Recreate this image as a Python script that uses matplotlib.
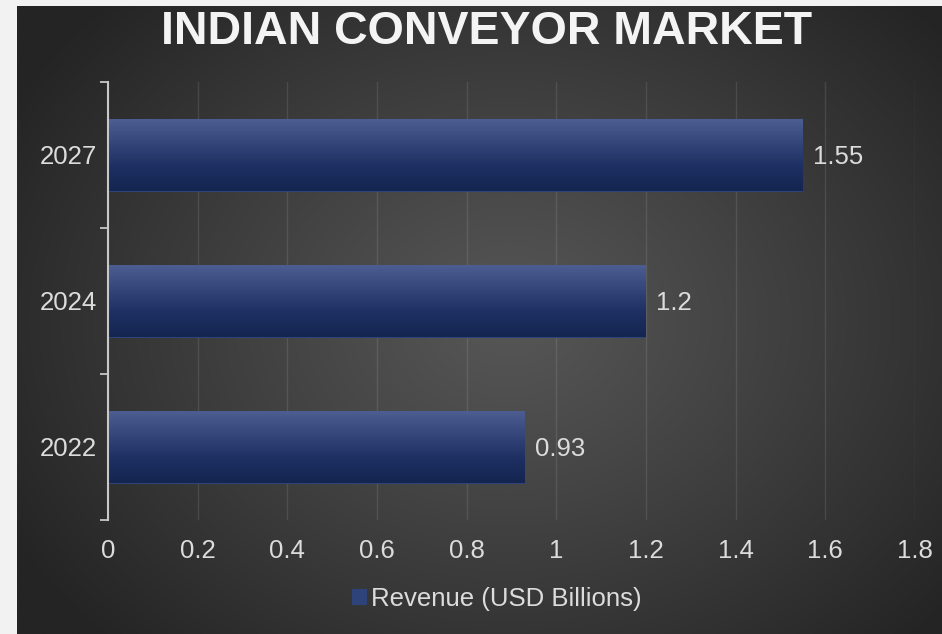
import numpy as np
import matplotlib
matplotlib.use("Agg")
import matplotlib.pyplot as plt
from matplotlib.colors import LinearSegmentedColormap, to_rgb

plt.rcParams["font.family"] = ["Liberation Sans", "DejaVu Sans"]

# Data
years = ["2022", "2024", "2027"]
revenue = [0.93, 1.2, 1.55]
x_ticks = [0, 0.2, 0.4, 0.6, 0.8, 1, 1.2, 1.4, 1.6, 1.8]
x_tick_labels = ["0", "0.2", "0.4", "0.6", "0.8", "1", "1.2", "1.4", "1.6", "1.8"]
title = "INDIAN CONVEYOR MARKET"
series_name = "Revenue (USD Billions)"

W, H = 942, 634
fig = plt.figure(figsize=(W / 100, H / 100), dpi=100, facecolor="#f2f2f2")

# Dark panel with a soft radial highlight
bg_ax = fig.add_axes([17 / W, 0, (W - 17) / W, (H - 6) / H], zorder=0)
bg_ax.set_axis_off()
ny, nx = 320, 470
yy, xx = np.mgrid[0:ny, 0:nx]
cx, cy = nx * 0.53, ny * 0.50
r = np.sqrt(((xx - cx) / (nx * 0.62)) ** 2 + ((yy - cy) / (ny * 0.72)) ** 2)
r = np.clip(r, 0, 1)
c_in = np.array(to_rgb("#565656"))
c_out = np.array(to_rgb("#242424"))
t = r[..., None] ** 1.1
bg = c_in * (1 - t) + c_out * t
bg_ax.imshow(bg, aspect="auto", extent=[0, 1, 0, 1], interpolation="bicubic")
bg_ax.set_xlim(0, 1)
bg_ax.set_ylim(0, 1)

# Plot area
ax = fig.add_axes([108 / W, (H - 520) / H, 807 / W, 438 / H], zorder=1)
ax.set_facecolor("none")

pos = np.arange(len(years))
bar_h = 0.5
bars = ax.barh(pos, revenue, height=bar_h, color="#2d4379", edgecolor="none",
               zorder=2, label=series_name)

bar_cmap = LinearSegmentedColormap.from_list(
    "barfade", ["#4d5f92", "#34467a", "#1e3062", "#142550"])
grad = np.linspace(0, 1, 100)[:, None]
for rect, v, p in zip(bars, revenue, pos):
    im = ax.imshow(grad, cmap=bar_cmap, aspect="auto",
                   extent=[0, v, p - bar_h / 2, p + bar_h / 2],
                   zorder=3, interpolation="bilinear")
    im.set_clip_path(rect)
    ax.annotate(f"{v:g}", xy=(v, p), xytext=(7, 0), textcoords="offset points",
                ha="left", va="center_baseline", color="#dcdcdc",
                fontsize=18.5, zorder=4)

ax.set_xlim(0, 1.8)
ax.set_ylim(-0.5, len(years) - 0.5)

ax.set_xticks(x_ticks)
ax.set_xticklabels(x_tick_labels)
ax.set_yticks(pos)
ax.set_yticklabels(years)
ax.set_yticks(np.arange(-0.5, len(years), 1.0), minor=True)

ax.tick_params(axis="x", length=0, pad=14, labelsize=18.5, labelcolor="#dcdcdc")
ax.tick_params(axis="y", which="major", length=0, pad=8, labelsize=18.5,
               labelcolor="#dcdcdc")
ax.tick_params(axis="y", which="minor", length=6, width=1.3, color="#c8c8c8",
               direction="out")

ax.grid(axis="x", color="#ffffff", alpha=0.10, linewidth=1.0, zorder=1)
ax.set_axisbelow(True)

for side in ["top", "right", "bottom"]:
    ax.spines[side].set_visible(False)
ax.spines["left"].set_color("#c8c8c8")
ax.spines["left"].set_linewidth(1.5)
ax.spines["left"].set_zorder(5)

fig.text(487 / W, 1 - 32 / H, title, ha="center", va="center",
         fontsize=33.5, fontweight="bold", color="#f4f4f4")

leg = fig.legend(handles=[bars], labels=[series_name],
                 loc="center", bbox_to_anchor=(497 / W, 1 - 599 / H),
                 frameon=False, fontsize=18.5, handlelength=0.6,
                 handleheight=0.6, handletextpad=0.15, labelcolor="#dcdcdc")

fig.savefig("out.png", dpi=100, facecolor=fig.get_facecolor())
